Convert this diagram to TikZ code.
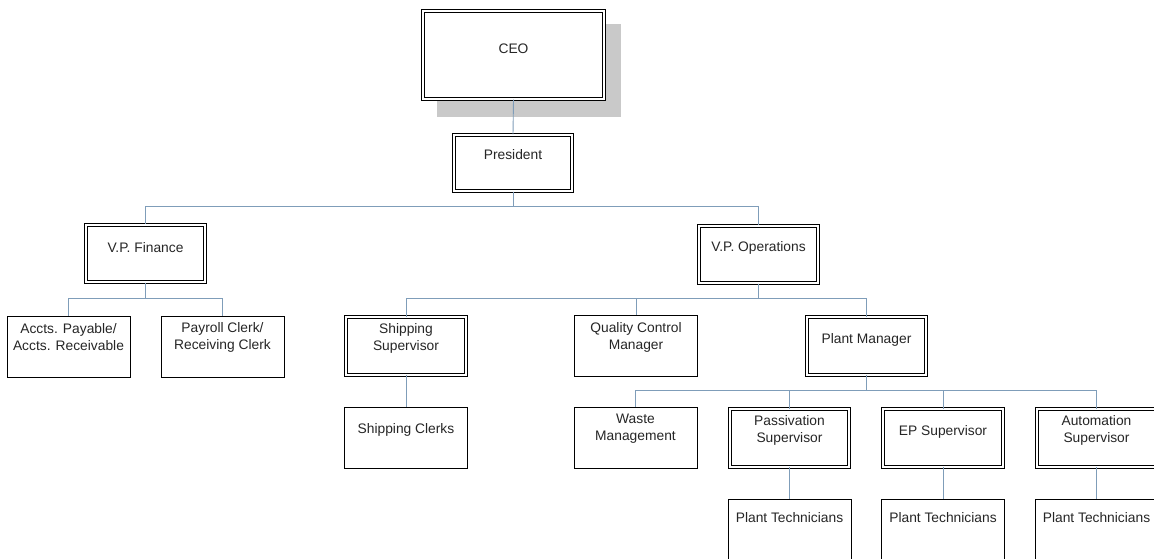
\documentclass[tikz,border=0pt]{standalone}
\usepackage{fontspec}
\setmainfont{Liberation Sans}
\usetikzlibrary{calc}
\definecolor{conncol}{HTML}{7F9DB9}
\definecolor{shadowcol}{HTML}{C9C9C9}
\tikzset{
  sbox/.style={draw=black, line width=0.9pt, fill=white, minimum width=123pt, minimum height=61pt, inner sep=0pt},
  dbox/.style={draw=black, line width=0.8pt, double=white, double distance=2pt, fill=white, minimum width=119.5pt, minimum height=57.5pt, inner sep=0pt},
  lab/.style={anchor=center, align=center, inner sep=0pt, font=\fontsize{13.8}{17}\selectfont, text=black!85},
  conn/.style={draw=conncol, line width=0.9pt},
}
\begin{document}
\begin{tikzpicture}[x=1pt, y=-1pt]
\useasboundingbox (0,0) rectangle (1154,558);
\clip (0,0) rectangle (1154,558);
% shadow of CEO
\fill[shadowcol] (437,24) rectangle (621,117);
% CEO
\node[dbox, minimum width=181.5pt, minimum height=88.5pt, label={[lab, name=ceot, yshift=-38pt]north:CEO}] (ceo) at (513.5,55) {};
\node[dbox, minimum width=118.5pt, minimum height=56.5pt, label={[lab, name=prest, yshift=-20pt]north:President}] (pres) at (513,163) {};
% VPs
\node[dbox, label={[lab, name=vpft, yshift=-23pt]north:V.P. Finance}] (vpf) at (145.5,253.5) {};
\node[dbox, label={[lab, name=vpot, yshift=-23pt]north:V.P. Operations}] (vpo) at (758.5,254.5) {};
% finance children
\node[sbox, label={[lab, name=apt, yshift=-22pt]north:Accts. Payable/\\Accts. Receivable}] (ap) at (68.5,346.5) {};
\node[sbox, label={[lab, name=prt, yshift=-22pt]north:Payroll Clerk/\\Receiving Clerk}] (pr) at (222.5,346.5) {};
% operations children
\node[dbox, label={[lab, name=sst, yshift=-22pt]north:Shipping\\Supervisor}] (ss) at (406,346) {};
\node[sbox, label={[lab, name=qct, yshift=-22pt]north:Quality Control\\Manager}] (qc) at (636,346) {};
\node[dbox, label={[lab, name=pmt, yshift=-23pt]north:Plant Manager}] (pm) at (866.5,346) {};
% shipping clerks
\node[sbox, label={[lab, name=sct, yshift=-23pt]north:Shipping Clerks}] (sc) at (406,438) {};
% plant manager children
\node[sbox, label={[lab, name=wmt, yshift=-22pt]north:Waste\\Management}] (wm) at (635.5,438) {};
\node[dbox, label={[lab, name=pst, yshift=-22pt]north:Passivation\\Supervisor}] (ps) at (789.5,438) {};
\node[dbox, label={[lab, name=ept, yshift=-23pt]north:EP Supervisor}] (ep) at (943,438) {};
\node[dbox, label={[lab, name=ast, yshift=-22pt]north:Automation\\Supervisor}] (as) at (1096.5,438) {};
% plant technicians
\node[sbox, label={[lab, name=pt1t, yshift=-19pt]north:Plant Technicians}] (pt1) at (789.5,529.5) {};
\node[sbox, label={[lab, name=pt2t, yshift=-19pt]north:Plant Technicians}] (pt2) at (943,529.5) {};
\node[sbox, label={[lab, name=pt3t, yshift=-19pt]north:Plant Technicians}] (pt3) at (1096.5,529.5) {};
% connectors
\draw[conn] (ceo.south) -- (pres.north);
\draw[conn] (pres.south) -- ++(0,15) -| (vpf.north);
\draw[conn] (pres.south) -- ++(0,15) -| (vpo.north);
\draw[conn] (vpf.south) -- ++(0,16) -| (ap.north);
\draw[conn] (vpf.south) -- ++(0,16) -| (pr.north);
\draw[conn] (vpo.south) -- ++(0,15) -| (ss.north);
\draw[conn] (vpo.south) -- ++(0,15) -| (qc.north);
\draw[conn] (vpo.south) -- ++(0,15) -| (pm.north);
\draw[conn] (ss.south) -- (sc.north);
\draw[conn] (pm.south) -- ++(0,15) -| (wm.north);
\draw[conn] (pm.south) -- ++(0,15) -| (ps.north);
\draw[conn] (pm.south) -- ++(0,15) -| (ep.north);
\draw[conn] (pm.south) -- ++(0,15) -| (as.north);
\draw[conn] (ps.south) -- (pt1.north);
\draw[conn] (ep.south) -- (pt2.north);
\draw[conn] (as.south) -- (pt3.north);
\end{tikzpicture}
\end{document}
